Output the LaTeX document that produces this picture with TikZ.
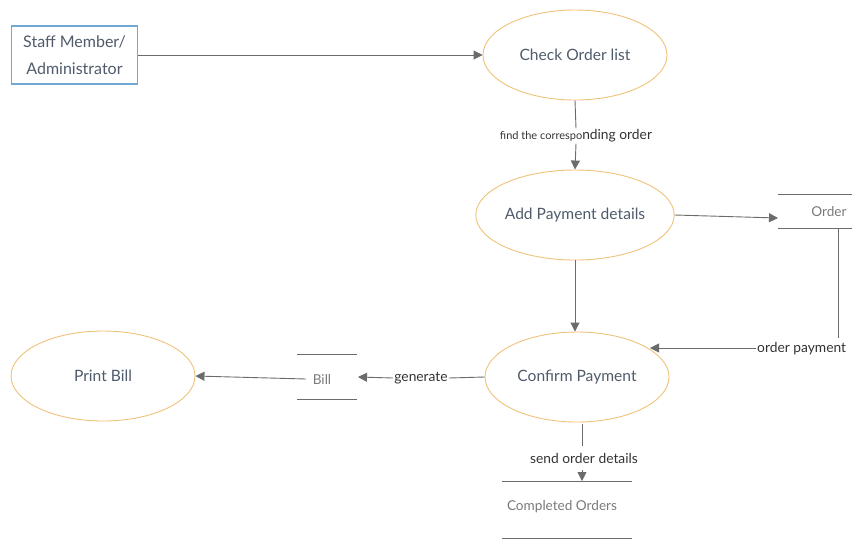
\documentclass[tikz,border=0pt]{standalone}
\usepackage{fontspec}
\setmainfont{Lato}
\usetikzlibrary{shapes.geometric,arrows.meta}
\definecolor{ellb}{HTML}{EFC27A}
\definecolor{txt}{HTML}{4F5B6B}
\definecolor{boxb}{HTML}{6FA8D0}
\definecolor{ln}{HTML}{6B6B6B}
\definecolor{stxt}{HTML}{7A7A7A}
\tikzset{
  proc/.style={ellipse, draw=ellb, line width=0.9pt, minimum width=184pt, minimum height=90pt, inner sep=0pt, text=txt, font=\fontsize{15.6}{18}\selectfont},
  ent/.style={draw=boxb, line width=1.2pt, minimum width=126pt, minimum height=58pt, inner sep=2pt, text=txt, align=center, font=\fontsize{16}{27}\selectfont},
  stline/.style={draw=ln, line width=0.9pt},
  sttxt/.style={text=stxt, font=\fontsize{13.6}{16}\selectfont},
  lbl/.style={text=black!80, font=\fontsize{13.8}{16}\selectfont, inner sep=1pt, fill=white},
  flow/.style={draw=ln, line width=0.9pt, -{Triangle[length=9pt,width=9pt]}},
  plain/.style={draw=ln, line width=0.9pt}
}
\begin{document}
\begin{tikzpicture}[x=1pt,y=-1pt]
\useasboundingbox (0,0) rectangle (852,542);
% entities and processes
\node[ent] (staff) at (74.5,55) {Staff Member/\\Administrator};
\node[proc] (check) at (575,55) {Check Order list};
\node[proc] (add) at (575,215) {Add Payment details};
\node[proc] (confirm) at (577,377) {Confirm Payment};
\node[proc] (print) at (103,376) {Print Bill};
% data stores
\draw[stline] (778,194) -- (852,194) (778,228) -- (852,228);
\node[sttxt] (order) at (829,212) {Order};
\draw[stline] (297,354) -- (357,354) (297,399) -- (357,399);
\node[sttxt] (bill) at (322,379) {Bill};
\draw[stline] (502,481) -- (632,481) (502,538) -- (632,538);
\node[sttxt] (completed) at (562,507) {Completed Orders};
% coordinates
\coordinate (orderin) at (778,218);
\coordinate (orderbot) at (838,228);
\coordinate (corner) at (838,338);
\coordinate (billin) at (358,377);
\coordinate (billout) at (306,379);
\coordinate (compin) at (582,481);
\coordinate (confin) at (650,348);
% flows
\draw[flow] (staff.east) -- (check.west);
\node[lbl] (l1) at (576,136) {{\fontsize{11}{13}\selectfont find the correspo}nding order};
\draw[plain] (check.south) -- (l1.north);
\draw[flow] (l1.south) -- (add.north);
\draw[flow] (add.east) -- (orderin);
\draw[flow] (add.south) -- (add.south |- confirm.north);
\node[lbl, anchor=west] (l2) at (756,349) {order payment};
\draw[plain] (orderbot) -- (corner);
\draw[flow] (l2.west |- confin) -- (confin);
\node[lbl] (l3) at (421,378) {generate};
\draw[plain] (confirm.west) -- (l3.east);
\draw[flow] (l3.west) -- (billin);
\draw[flow] (billout) -- (print.east);
\node[lbl] (l4) at (584,458) {send order details};
\draw[plain] (582,424) -- (582,446);
\draw[flow] (582,470) -- (compin);
\end{tikzpicture}
\end{document}
